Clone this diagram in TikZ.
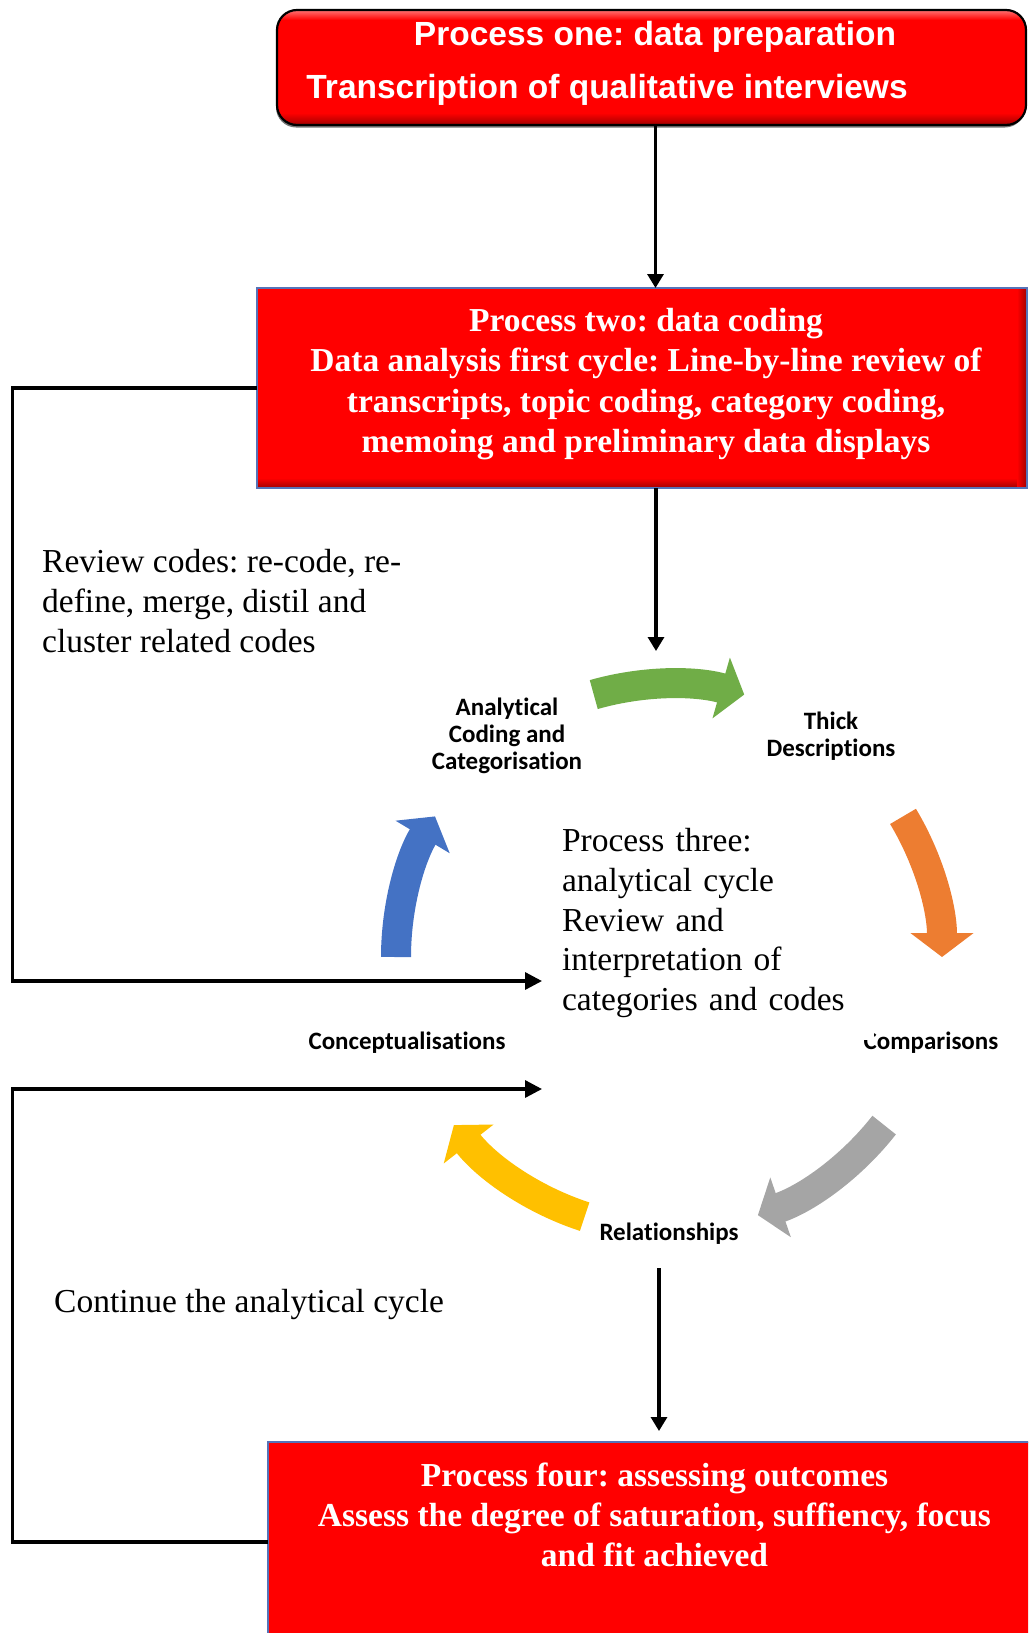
\documentclass[tikz,border=0pt]{standalone}
\usepackage{fontspec}
\setmainfont{Liberation Serif}
\newfontfamily\arialf{Liberation Sans}
\newfontfamily\calf{Carlito}[Ligatures=NoCommon]
\usetikzlibrary{arrows.meta,calc,shadows}
\definecolor{boxred}{HTML}{FF0000}
\definecolor{darkred}{HTML}{A00000}
\definecolor{boxblue}{HTML}{5673B8}
\definecolor{cgreen}{HTML}{70AD47}
\definecolor{corange}{HTML}{ED7D31}
\definecolor{cgray}{HTML}{A5A5A5}
\definecolor{cyellow}{HTML}{FFC000}
\definecolor{cblue}{HTML}{4472C4}
\frenchspacing
\begin{document}
\begin{tikzpicture}[x=1pt,y=1pt,
  redbox/.style={fill=boxred, inner sep=0pt, outer sep=0pt, anchor=north west},
  boxtext/.style={text=white, font=\bfseries\fontsize{33.5pt}{40.3pt}\selectfont, align=center, inner sep=0pt},
  plaintext/.style={font=\fontsize{33.5pt}{39.8pt}\selectfont, align=left, inner sep=0pt},
  lbl/.style={font=\calf\bfseries\fontsize{25pt}{27pt}\selectfont, align=center, inner sep=0pt},
  conn/.style={draw=black, line width=3.2pt, -{Triangle[length=14pt,width=16pt]}},
  loopline/.style={draw=black, line width=3.3pt, -{Triangle[length=17pt,width=17pt]}},
  cyc/.style={line width=30pt, -{Triangle[length=24pt,width=62pt]}},
]
\useasboundingbox (0,0) rectangle (1028,-1633);
\clip (0,0) rectangle (1028,-1633);

% Process one
\node[fill=boxred, rounded corners=20pt, minimum width=749pt, minimum height=115pt, anchor=north west, inner sep=0pt, outer sep=0pt,
      drop shadow={shadow xshift=-1pt, shadow yshift=-2.5pt, opacity=0.55, fill=black}] (p1) at (277,-10) {};
\begin{scope}
  \clip[rounded corners=20pt] (p1.south west) rectangle (p1.north east);
  \shade[top color=boxred, bottom color=darkred] ([yshift=12pt]p1.south west) rectangle (p1.south east);
  \shade[top color=red!55!white, bottom color=boxred] (p1.north west) rectangle ([yshift=-10pt]p1.north east);
\end{scope}
\draw[black, line width=2.2pt, rounded corners=20pt] (p1.south west) rectangle (p1.north east);
\node[boxtext, font=\arialf\bfseries\fontsize{33.5pt}{40pt}\selectfont] (p1a) at (655,-37) {Process one: data preparation};
\node[boxtext, font=\arialf\bfseries\fontsize{33.5pt}{40pt}\selectfont] (p1b) at (607,-90) {Transcription of qualitative interviews};

% Process two
\node[redbox, minimum width=770pt, minimum height=200pt] (p2) at (257,-288) {};
\shade[top color=boxred, bottom color=darkred] ([yshift=10pt]p2.south west) rectangle (p2.south east);
\shade[left color=boxred, right color=darkred] ([xshift=-10pt]p2.north east) rectangle (p2.south east);
\draw[boxblue, line width=2pt] (p2.south west) rectangle (p2.north east);
\node[boxtext] (p2t) at (646,-384) {Process two: data coding\\Data analysis first cycle: Line-by-line review of\\transcripts, topic coding, category coding,\\memoing and preliminary data displays};

% Process four
\node[redbox, minimum width=790pt, minimum height=200pt] (p4) at (268,-1442) {};
\draw[boxblue, line width=2pt] (p4.south west) rectangle (p4.north east);
\node[boxtext] (p4t) at (654.5,-1515) {Process four: assessing outcomes\\Assess the degree of saturation, suffiency, focus\\and fit achieved};

% side texts
\node[plaintext, anchor=west] (rev) at (42,-601) {Review codes: re-code, re-\\define, merge, distil and\\cluster related codes};
\node[plaintext, anchor=west] (cont) at (54,-1304) {Continue the analytical cycle};

% cycle labels
\node[lbl] (ana) at (507,-736) {Analytical\\Coding and\\Categorisation};
\node[lbl] (thick) at (831,-736) {Thick\\Descriptions};
\node[lbl] (concept) at (407,-1043) {Conceptualisations};
\node[lbl] (comp) at (931,-1043) {Comparisons};
\node[lbl] (rel) at (669,-1234) {Relationships};

% centre text (white text box)
\node[plaintext, fill=white, inner xsep=14pt, inner ysep=0pt, text width=298pt, minimum width=326pt, minimum height=234pt] (p3) at (711,-923) {Process three:\\analytical cycle\\Review and\\interpretation of\\categories and codes};

% cycle arrows
\coordinate (C) at (669,-957);
\draw[cyc, cgreen] ($(C)+(106:273)$) arc[start angle=106, end angle=74, radius=273];
\draw[cyc, corange] ($(C)+(31:273)$) arc[start angle=31, end angle=0, radius=273];
\draw[cyc, cgray] ($(C)+(-38:273)$) arc[start angle=-38, end angle=-71, radius=273];
\draw[cyc, cyellow] ($(C)+(-108:273)$) arc[start angle=-108, end angle=-142, radius=273];
\draw[cyc, cblue] ($(C)+(180:273)$) arc[start angle=180, end angle=149, radius=273];

% straight connectors
\draw[conn] ([xshift=4pt]p1.south) -- ([xshift=4pt]p1.south |- p2.north);
\coordinate (t2) at (656,-651);
\draw[conn] (p2.south -| t2) -- (t2);
\coordinate (r1) at (659,-1268);
\coordinate (t4) at (659,-1431);
\draw[conn] (r1) -- (t4);

% loop-back lines
\coordinate (L1) at (12.5,-981);
\coordinate (T1) at (542,-981);
\draw[loopline] (p2.west) -| (L1) -- (T1);
\coordinate (L2) at (12.5,-1089);
\coordinate (T2) at (542,-1089);
\draw[loopline] (p4.west) -| (L2) -- (T2);
\end{tikzpicture}
\end{document}
